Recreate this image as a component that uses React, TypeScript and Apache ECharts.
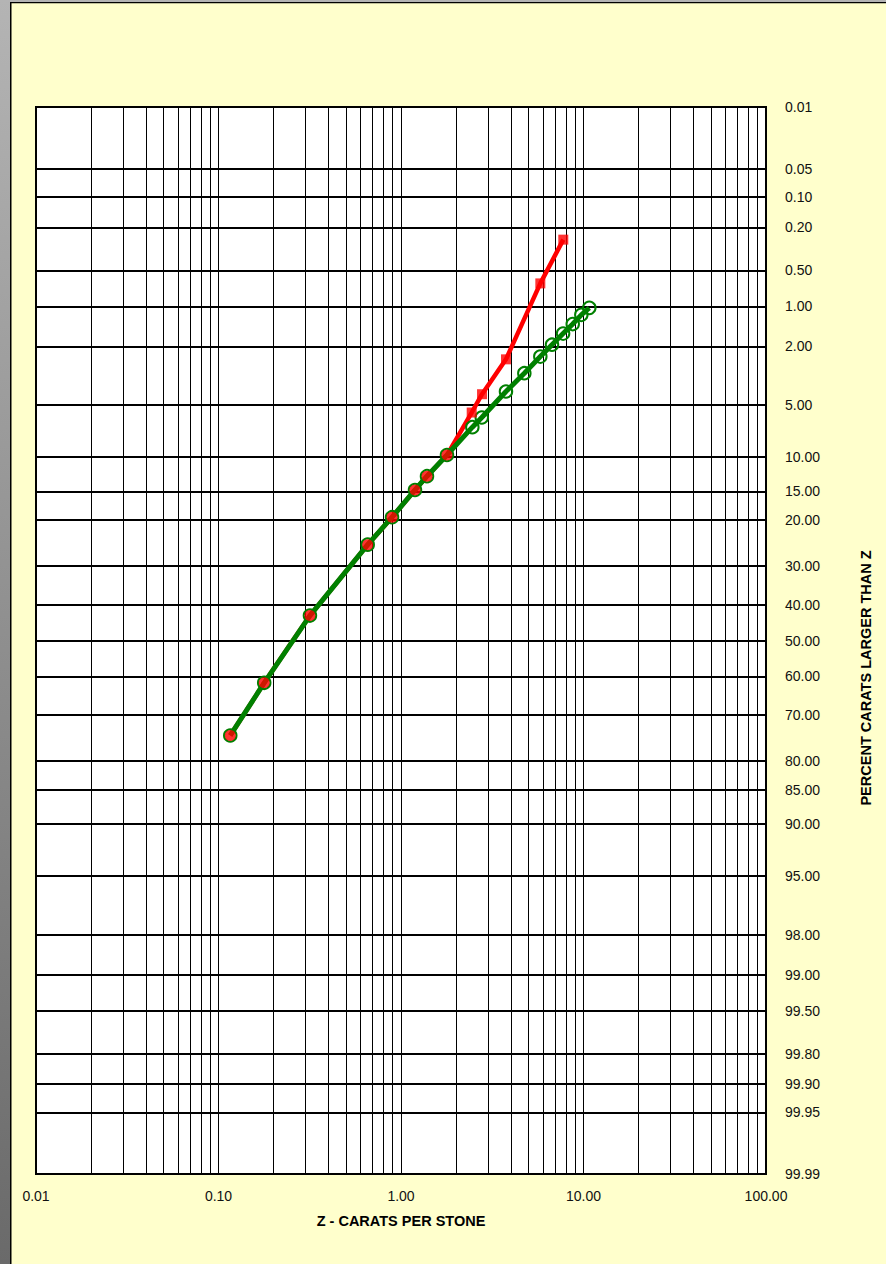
import React, { useEffect, useRef } from "react";
import * as echarts from "echarts";

// ---- Data ----
const greenX = [0.116, 0.178, 0.317, 0.657, 0.893, 1.193, 1.388, 1.786, 2.46, 2.77, 3.76, 4.74, 5.8, 6.72, 7.73, 8.73, 9.73, 10.76];
const greenPct = [74.6, 61.6, 43.1, 25.2, 19.5, 14.7, 12.6, 9.8, 6.85, 6.0, 4.13, 3.12, 2.39, 1.96, 1.62, 1.37, 1.16, 1.02];

const redX = [0.116, 0.178, 0.317, 0.657, 0.893, 1.193, 1.388, 1.786, 2.44, 2.78, 3.76, 5.8, 7.75];
const redPct = [74.6, 61.6, 43.1, 25.2, 19.5, 14.7, 12.6, 9.8, 5.6, 4.3, 2.5, 0.64, 0.26];
const redCircleCount = 8; // first points drawn as circles, the rest as squares

const yTickPct = [0.01, 0.05, 0.1, 0.2, 0.5, 1, 2, 5, 10, 15, 20, 30, 40, 50, 60, 70, 80, 85, 90, 95, 98, 99, 99.5, 99.8, 99.9, 99.95, 99.99];
const xDecades = [0.01, 0.1, 1, 10, 100];
const xMinor = [
  0.02, 0.03, 0.04, 0.05, 0.06, 0.07, 0.08, 0.09,
  0.2, 0.3, 0.4, 0.5, 0.6, 0.7, 0.8, 0.9,
  2, 3, 4, 5, 6, 7, 8, 9,
  20, 30, 40, 50, 60, 70, 80, 90,
];

const xTitle = "Z - CARATS PER STONE";
const yTitle = "PERCENT CARATS LARGER THAN Z";

// inverse normal CDF (Acklam)
function probit(p: number): number {
  const a = [-3.969683028665376e1, 2.209460984245205e2, -2.759285104469687e2, 1.38357751867269e2, -3.066479806614716e1, 2.506628277459239];
  const b = [-5.447609879822406e1, 1.615858368580409e2, -1.556989798598866e2, 6.680131188771972e1, -1.328068155288572e1];
  const c = [-7.784894002430293e-3, -3.223964580411365e-1, -2.400758277161838, -2.549732539343734, 4.374664141464968, 2.938163982698783];
  const d = [7.784695709041462e-3, 3.224671290700398e-1, 2.445134137142996, 3.754408661907416];
  const plow = 0.02425;
  const phigh = 1 - plow;
  if (p < plow) {
    const q = Math.sqrt(-2 * Math.log(p));
    return (((((c[0] * q + c[1]) * q + c[2]) * q + c[3]) * q + c[4]) * q + c[5]) / ((((d[0] * q + d[1]) * q + d[2]) * q + d[3]) * q + 1);
  }
  if (p <= phigh) {
    const q = p - 0.5;
    const r = q * q;
    return ((((((a[0] * r + a[1]) * r + a[2]) * r + a[3]) * r + a[4]) * r + a[5]) * q) / (((((b[0] * r + b[1]) * r + b[2]) * r + b[3]) * r + b[4]) * r + 1);
  }
  const q = Math.sqrt(-2 * Math.log(1 - p));
  return -(((((c[0] * q + c[1]) * q + c[2]) * q + c[3]) * q + c[4]) * q + c[5]) / ((((d[0] * q + d[1]) * q + d[2]) * q + d[3]) * q + 1);
}
const zOf = (pct: number) => probit(pct / 100);

const FONT = "'Liberation Sans', Arial, sans-serif";

export default function App() {
  const ref = useRef<HTMLDivElement>(null);
  useEffect(() => {
    if (!ref.current) return;
    const chart = echarts.init(ref.current, undefined, { renderer: "svg" });
    const W = 886;
    const H = 1264;
    const gridLeft = 36;
    const gridTop = 107;
    const gridRight = 120;
    const gridBottom = 90;

    const greenData = greenX.map((x, i) => [x, zOf(greenPct[i])]);
    const redData = redX.map((x, i) => [x, zOf(redPct[i])]);
    const yMin = zOf(yTickPct[0]);
    const yMax = zOf(yTickPct[yTickPct.length - 1]);
    const innerPct = yTickPct.slice(1, -1);
    const edgePct = [yTickPct[0], yTickPct[yTickPct.length - 1]];

    const baseGraphic: any[] = [
      {
        type: "rect",
        shape: { x: 0, y: 0, width: 10, height: H },
        style: {
          fill: new echarts.graphic.LinearGradient(0, 0, 0, 1, [
            { offset: 0, color: "#B4B4B4" },
            { offset: 1, color: "#6A6A6A" },
          ]),
        },
        silent: true,
      },
      { type: "rect", shape: { x: 0, y: 0, width: W, height: 2 }, style: { fill: "#B4B4B4" }, silent: true },
      { type: "rect", shape: { x: 10, y: 2, width: 1.5, height: H }, style: { fill: "#000" }, silent: true },
      { type: "rect", shape: { x: 10, y: 2, width: W, height: 1.2 }, style: { fill: "#000" }, silent: true },
      {
        type: "text",
        x: 401,
        y: 1221,
        style: {
          text: xTitle,
          font: `bold 14.5px ${FONT}`,
          fill: "#000",
          align: "center",
          verticalAlign: "middle",
        },
        silent: true,
      },
      {
        type: "text",
        x: 866,
        y: 678,
        rotation: Math.PI / 2,
        style: {
          text: yTitle,
          font: `bold 14.5px ${FONT}`,
          fill: "#000",
          align: "center",
          verticalAlign: "middle",
        },
        silent: true,
      },
    ];

    const option: any = {
      animation: false,
      backgroundColor: "#FFFFCC",
      grid: {
        left: gridLeft,
        right: gridRight,
        top: gridTop,
        bottom: gridBottom,
        show: true,
        backgroundColor: "#FFFFFF",
        borderColor: "#000000",
        borderWidth: 2,
      },
      xAxis: {
        type: "log",
        logBase: 10,
        min: 0.01,
        max: 100,
        splitNumber: 4,
        axisLine: { show: false },
        axisTick: { show: false },
        splitLine: { show: false },
        axisLabel: {
          show: true,
          margin: 15,
          fontSize: 14,
          fontFamily: FONT,
          color: "#111",
          formatter: (v: number) => Number(v).toFixed(2),
        },
      },
      yAxis: {
        type: "value",
        inverse: true,
        min: yMin,
        max: yMax,
        axisLine: { show: false },
        axisTick: { show: false },
        splitLine: { show: false },
        axisLabel: { show: false },
      },
      graphic: baseGraphic,
      series: [
        {
          type: "line",
          name: "gridlines",
          data: [[1, 0]],
          symbol: "none",
          showSymbol: false,
          lineStyle: { opacity: 0 },
          silent: true,
          z: 1,
          markLine: {
            silent: true,
            z: 1,
            symbol: ["none", "none"],
            animation: false,
            data: [
              ...xMinor.concat(xDecades.slice(1, -1)).map((v) => ({
                xAxis: v,
                lineStyle: { color: "#000", width: 1, type: "solid" },
                label: { show: false },
              })),
              ...innerPct.map((p) => ({
                yAxis: zOf(p),
                name: p.toFixed(2),
                lineStyle: { color: "#000", width: 2, type: "solid" },
                label: {
                  show: true,
                  position: "end",
                  distance: 19,
                  formatter: "{b}",
                  fontSize: 14,
                  fontFamily: FONT,
                  color: "#111",
                },
              })),
            ],
          },
        },
        {
          type: "line",
          name: "red-line",
          data: redData,
          showSymbol: false,
          symbol: "none",
          lineStyle: { color: "#FF0000", width: 4.5 },
          z: 3,
          silent: true,
        },
        {
          type: "line",
          name: "green",
          data: greenData,
          symbol: "circle",
          symbolSize: 12.5,
          showSymbol: true,
          showAllSymbol: true,
          lineStyle: { color: "#008000", width: 5 },
          itemStyle: { color: "rgba(0,0,0,0)", borderColor: "#008000", borderWidth: 2 },
          z: 4,
          silent: true,
        },
        {
          type: "scatter",
          name: "red-circles",
          data: redData.slice(0, redCircleCount),
          symbol: "circle",
          symbolSize: 11,
          itemStyle: { color: "#FF0000" },
          z: 5,
          silent: true,
        },
        {
          type: "scatter",
          name: "red-squares",
          data: redData.slice(redCircleCount),
          symbol: "rect",
          symbolSize: 10,
          itemStyle: { color: "#FF0000" },
          z: 5,
          silent: true,
        },
      ],
    };
    chart.setOption(option);

    // edge labels (0.01 / 99.99) placed through the axis scale
    const xRight = chart.convertToPixel({ xAxisIndex: 0 }, 100) as number;
    const edgeLabels = edgePct.map((p) => ({
      type: "text",
      x: xRight + 19,
      y: chart.convertToPixel({ yAxisIndex: 0 }, zOf(p)) as number,
      style: {
        text: p.toFixed(2),
        font: `14px ${FONT}`,
        fill: "#111",
        align: "left",
        verticalAlign: "middle",
      },
      silent: true,
    }));
    chart.setOption({ graphic: baseGraphic.concat(edgeLabels) });

    return () => chart.dispose();
  }, []);
  return (
    <div
      ref={ref}
      style={{ position: "absolute", left: 0, top: 0, width: 886, height: 1264 }}
    />
  );
}
